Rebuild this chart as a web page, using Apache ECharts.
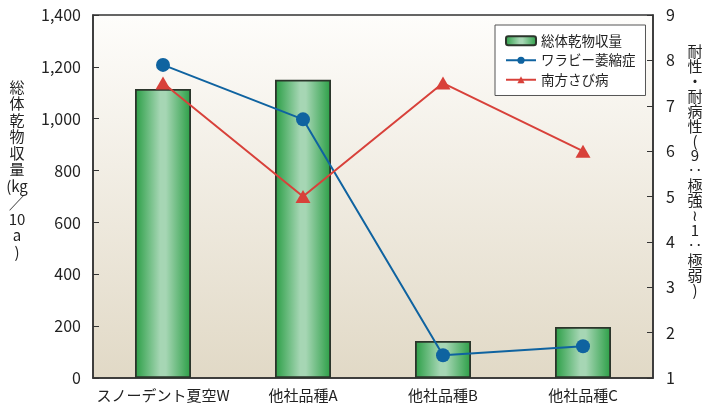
<!DOCTYPE html>
<html><head><meta charset="utf-8">
<script src="https://cdn.jsdelivr.net/npm/echarts@6/dist/echarts.min.js"></script>
<style>html,body{margin:0;padding:0;background:#fff}#c{width:708px;height:409px}</style>
</head><body><div id="c"></div>
<script>
const categories = ['スノーデント夏空W', '他社品種A', '他社品種B', '他社品種C'];
const yieldValues = [1115, 1150, 143, 197];
const wilt = [7.9, 6.7, 1.5, 1.7];
const rust = [7.5, 5.0, 7.5, 6.0];
const leftTicks = [0, 1400, 200];
const rightTicks = [1, 9, 1];
const seriesNames = ['総体乾物収量', 'ワラビー萎縮症', '南方さび病'];
const leftTitle = ['総','体','乾','物','収','量','(kg','╱','10','a',')'];
const rightTitle = ['耐','性','・','耐','病','性','(','9','‥','極','強','≀','1','‥','極','弱',')'];

const font = '"Noto Sans CJK JP", "Noto Sans", sans-serif';
const txt = '#222';
const chart = echarts.init(document.getElementById('c'), null, {renderer: 'canvas'});
const barGrad = new echarts.graphic.LinearGradient(0, 0, 1, 0, [
  {offset: 0, color: '#2a9e45'},
  {offset: 0.45, color: '#a6d6b4'},
  {offset: 0.55, color: '#a6d6b4'},
  {offset: 1, color: '#2a9e45'}
]);
chart.setOption({
  animation: false,
  textStyle: {fontFamily: font},
  grid: {
    left: 93, right: 55, top: 15, bottom: 31, show: true,
    borderColor: '#333', borderWidth: 1.5,
    backgroundColor: new echarts.graphic.LinearGradient(0, 0, 0, 1, [
      {offset: 0, color: '#fefdfb'},
      {offset: 1, color: '#e1d9c6'}
    ])
  },
  legend: {
    orient: 'vertical', left: 495, top: 25, width: 147,
    padding: [9, 10, 9, 10], itemGap: 6,
    itemWidth: 30, itemHeight: 9,
    backgroundColor: '#fff', borderColor: '#555', borderWidth: 1,
    textStyle: {fontFamily: font, fontSize: 13.5, color: txt},
    data: seriesNames
  },
  xAxis: {
    type: 'category', data: categories,
    axisLine: {lineStyle: {color: '#333', width: 1.5}},
    axisTick: {inside: true, length: 7, lineStyle: {color: '#333'}},
    axisLabel: {fontFamily: font, fontSize: 15, color: txt, margin: 10, interval: 0}
  },
  yAxis: [{
    type: 'value', min: leftTicks[0], max: leftTicks[1], interval: leftTicks[2],
    splitLine: {show: false},
    axisLine: {show: true, lineStyle: {color: '#333', width: 1.5}},
    axisTick: {show: true, inside: true, length: 6, lineStyle: {color: '#333'}},
    axisLabel: {fontFamily: font, fontSize: 16, color: txt, margin: 12,
      formatter: v => v.toLocaleString('en-US')}
  }, {
    type: 'value', min: rightTicks[0], max: rightTicks[1], interval: rightTicks[2],
    splitLine: {show: false},
    axisLine: {show: true, lineStyle: {color: '#333', width: 1.5}},
    axisTick: {show: true, inside: true, length: 6, lineStyle: {color: '#333'}},
    axisLabel: {fontFamily: font, fontSize: 16, color: txt, margin: 13}
  }],
  series: [{
    name: seriesNames[0], type: 'bar', data: yieldValues, barWidth: '40%',
    itemStyle: {color: barGrad, borderColor: '#2b352b', borderWidth: 1.8}
  }, {
    name: seriesNames[1], type: 'line', yAxisIndex: 1, data: wilt,
    symbol: 'circle', symbolSize: 14,
    lineStyle: {color: '#0f63a0', width: 2},
    itemStyle: {color: '#0f63a0'}
  }, {
    name: seriesNames[2], type: 'line', yAxisIndex: 1, data: rust,
    symbol: 'triangle', symbolSize: [15, 13],
    lineStyle: {color: '#d8413a', width: 2},
    itemStyle: {color: '#d8413a'}
  }],
  graphic: [{
    type: 'text', x: 17, y: 79,
    style: {text: leftTitle.join('\n'), font: '15px ' + font, fill: txt,
      lineHeight: 16.5, align: 'center', verticalAlign: 'top'}
  }, {
    type: 'text', x: 695, y: 44,
    style: {text: rightTitle.join('\n'), font: '15px ' + font, fill: txt,
      lineHeight: 14.9, align: 'center', verticalAlign: 'top'}
  }]
});
</script></body></html>
